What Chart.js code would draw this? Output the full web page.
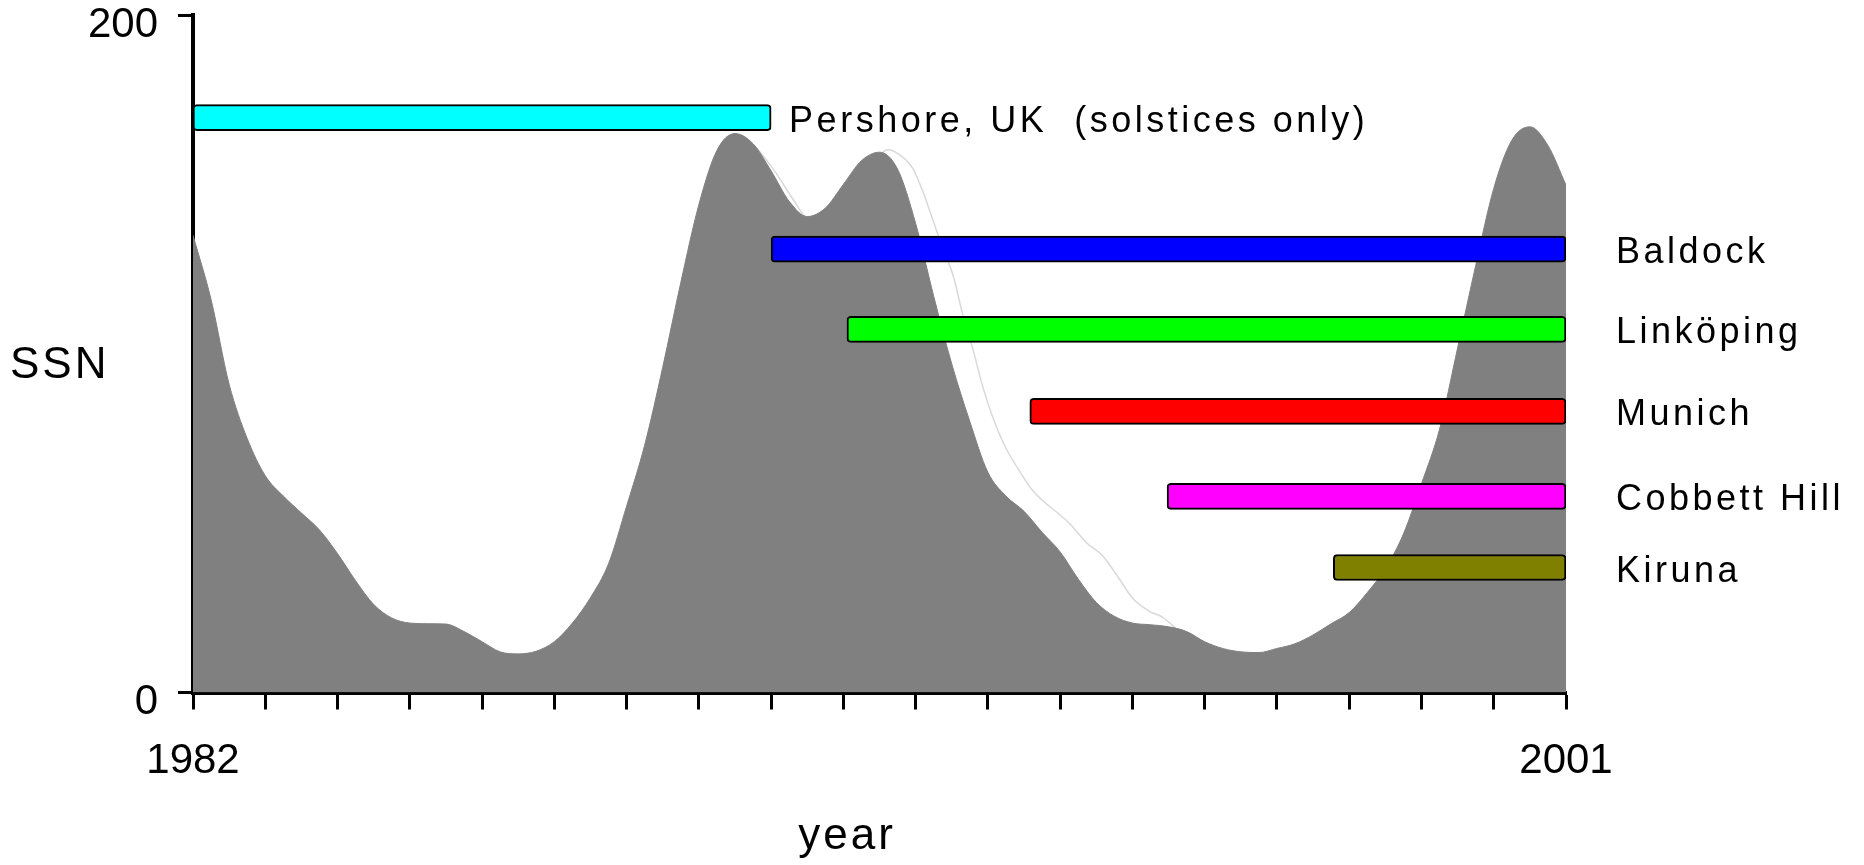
<!DOCTYPE html>
<html>
<head>
<meta charset="utf-8">
<title>SSN and observing stations 1982-2001</title>
<script src="https://cdn.jsdelivr.net/npm/chart.js@4/dist/chart.umd.min.js"></script>
<style>
  html, body { margin: 0; padding: 0; background: #fff; }
  #wrap { width: 1864px; height: 865px; position: relative; }
</style>
</head>
<body>
<div id="wrap"><canvas id="ssn-chart"></canvas></div>
<script>
// Smoothed sunspot number (quarterly)
const ssnYears = [
  1982, 1982.25, 1982.5, 1982.75, 1983, 1983.25, 1983.5, 1983.75,
  1984, 1984.25, 1984.5, 1984.75, 1985, 1985.25, 1985.5, 1985.75,
  1986, 1986.25, 1986.5, 1986.75, 1987, 1987.25, 1987.5, 1987.75,
  1988, 1988.25, 1988.5, 1988.75, 1989, 1989.25, 1989.5, 1989.75,
  1990, 1990.25, 1990.5, 1990.75, 1991, 1991.25, 1991.5, 1991.75,
  1992, 1992.25, 1992.5, 1992.75, 1993, 1993.25, 1993.5, 1993.75,
  1994, 1994.25, 1994.5, 1994.75, 1995, 1995.25, 1995.5, 1995.75,
  1996, 1996.25, 1996.5, 1996.75, 1997, 1997.25, 1997.5, 1997.75,
  1998, 1998.25, 1998.5, 1998.75, 1999, 1999.25, 1999.5, 1999.75,
  2000, 2000.25, 2000.5, 2000.75, 2001
];
const ssnValues = [
  135, 116, 91, 75, 64, 58, 53, 48,
  41, 33, 26, 22, 20.5, 20.3, 20.2, 18,
  15, 12, 11.4, 12.2, 15, 20.5, 28, 38,
  55, 73, 96, 121, 144, 160, 165, 162,
  154, 145, 140.5, 143, 150, 157, 159.5, 154.5,
  138.5, 117, 97, 80, 65, 58, 53.5, 47.3,
  41.5, 33.5, 26.6, 22.5, 20.5, 20, 19.4, 18,
  15, 13, 12, 11.8, 13, 14.4, 17, 20.3,
  23.6, 29.5, 36.6, 46.8, 61.6, 77.7, 101.7, 126,
  148.8, 163, 167, 161.5, 149.8
];

// Faint second curve, only visible where it rises above the grey area
const faintYears = [
  1989.4, 1989.55, 1989.76, 1990.04, 1990.32, 1990.5, 1990.75, 1991,
  1991.25, 1991.5, 1991.61, 1991.78, 1991.96, 1992.1, 1992.24, 1992.38,
  1992.52, 1992.65, 1992.79, 1992.93, 1993.07, 1993.25, 1993.44, 1993.62,
  1994.13, 1994.36, 1994.59, 1994.82, 1995, 1995.24, 1995.42, 1995.6
];
const faintValues = [
  163, 164, 161.5, 154.2, 145.1, 140.2, 141, 146,
  153, 158.5, 160.2, 158.7, 154.7, 147.9, 139.4, 130.9,
  123, 111.7, 101.5, 90.2, 81.1, 72.1, 65.3, 59.6,
  49.9, 44.3, 40.3, 33.5, 27.9, 23.9, 22.2, 19
];

// Observing stations: operating period and the level the bar sits at
const stations = ['Pershore, UK  (solstices only)', 'Baldock', 'Linköping', 'Munich', 'Cobbett Hill', 'Kiruna'];
const startYears = [1982, 1990, 1991.05, 1993.58, 1995.48, 1997.78];
const endYears = [1990, 2001, 2001, 2001, 2001, 2001];
const barLevels = [169.7, 130.9, 107.2, 83.0, 57.9, 36.9];

// Axis ticks
const yearTicks = [1982, 2001];
const ssnTicks = [0, 200];

const barColors = ['#00ffff', '#0000ff', '#00ff00', '#ff0000', '#ff00ff', '#808000'];
const FONT = '"Liberation Sans", Arial, Helvetica, sans-serif';

// labels next to the bars and the two axis titles
const stationLabels = {
    id: 'stationLabels',
    afterDatasetsDraw: function(chart) {
        const ctx = chart.ctx;
        const x = chart.scales.x;
        const y = chart.scales.y;
        ctx.save();
        ctx.fillStyle = '#000';
        ctx.textBaseline = 'alphabetic';
        ctx.textAlign = 'left';
        ctx.font = '36px ' + FONT;
        ctx.letterSpacing = '3.5px';
        stations.forEach((name, i) => {
            const py = y.getPixelForValue(barLevels[i]) + 14;
            const px = endYears[i] < x.max
                ? x.getPixelForValue(endYears[i]) + 18
                : chart.chartArea.right + 50;
            ctx.fillText(name, px, py);
        });

        ctx.font = '44px ' + FONT;
        ctx.letterSpacing = '3px';
        ctx.fillText('SSN', 10, 378);
        ctx.textAlign = 'center';
        ctx.fillText('year', 847, 849);
        ctx.restore();
    }
};

const ctx = document.getElementById('ssn-chart');

new Chart(ctx, {
    type: 'line',
    data: {
        datasets: [
            {
                type: 'bar',
                indexAxis: 'y',
                data: stations.map((s, i) => ({ x: [startYears[i], endYears[i]], y: barLevels[i] })),
                backgroundColor: barColors,
                borderColor: '#000',
                borderWidth: 2,
                borderRadius: 4,
                borderSkipped: false,
                barThickness: 26,
                order: 0
            },
            {
                type: 'line',
                data: faintYears.map((t, i) => ({ x: t, y: faintValues[i] })),
                borderColor: '#d9d9d9',
                borderWidth: 1.5,
                pointRadius: 0,
                fill: false,
                cubicInterpolationMode: 'monotone',
                order: 2
            },
            {
                type: 'line',
                data: ssnYears.map((t, i) => ({ x: t, y: ssnValues[i] })),
                borderColor: '#808080',
                backgroundColor: '#808080',
                borderWidth: 1,
                pointRadius: 0,
                fill: 'origin',
                cubicInterpolationMode: 'monotone',
                order: 1
            }
        ]
    },
    options: {
        responsive: true,
        maintainAspectRatio: false,
        animation: false,
        layout: {
            padding: { left: 0, top: 15, right: 298, bottom: 0 }
        },
        plugins: {
            legend: { display: false },
            tooltip: { enabled: false }
        },
        scales: {
            x: {
                type: 'linear',
                min: 1982,
                max: 2001,
                offset: false,
                z: 1,
                ticks: {
                    stepSize: 1,
                    autoSkip: false,
                    maxRotation: 0,
                    minRotation: 0,
                    padding: 27,
                    color: '#000',
                    font: { family: FONT, size: 42 },
                    callback: value => yearTicks.includes(value) ? String(value) : ''
                },
                grid: {
                    display: true,
                    offset: false,
                    drawOnChartArea: false,
                    drawTicks: true,
                    tickLength: 17,
                    tickWidth: 3,
                    tickColor: '#000'
                },
                border: { display: true, color: '#000', width: 4 },
                afterFit: function(scale) {
                    scale.height = 172.5;
                    scale.paddingLeft = 0;
                    scale.paddingRight = 0;
                }
            },
            y: {
                type: 'linear',
                min: 0,
                max: 200,
                offset: false,
                z: 1,
                ticks: {
                    stepSize: 200,
                    padding: 20,
                    labelOffset: 10,
                    color: '#000',
                    font: { family: FONT, size: 42 },
                    callback: value => ssnTicks.includes(value) ? String(value) : ''
                },
                grid: {
                    display: true,
                    offset: false,
                    drawOnChartArea: false,
                    drawTicks: true,
                    tickLength: 15,
                    tickWidth: 3,
                    tickColor: '#000'
                },
                border: { display: true, color: '#000', width: 4 },
                afterFit: function(scale) {
                    scale.width = 193;
                    scale.paddingTop = 0;
                    scale.paddingBottom = 0;
                }
            }
        }
    },
    plugins: [stationLabels]
});
</script>
</body>
</html>
